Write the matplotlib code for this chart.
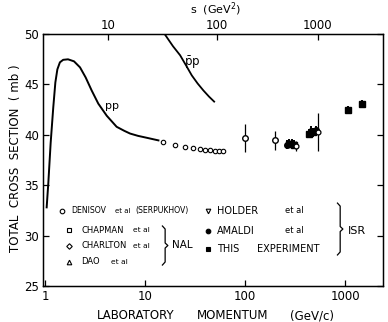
import numpy as np
import matplotlib
matplotlib.use("Agg")
import matplotlib.pyplot as plt

# pp total cross section curve (lab momentum GeV/c, mb)
pp_p = [1.04, 1.08, 1.14, 1.21, 1.27, 1.33, 1.41, 1.52, 1.70, 1.95, 2.24, 2.55,
        2.93, 3.41, 4.14, 5.2, 6.2, 7.08, 8.5, 10.5, 13.6]
pp_sig = [32.8, 35.2, 39.2, 42.7, 45.2, 46.5, 47.2, 47.45, 47.5, 47.3, 46.7, 45.7,
          44.4, 43.1, 41.9, 40.8, 40.4, 40.13, 39.9, 39.7, 39.45]

# pbar-p curve
pbp_p = [15.7, 19.0, 22.4, 26.0, 29.3, 33.5, 38.3, 43.5, 49.0]
pbp_sig = [50.0, 48.8, 47.9, 46.8, 45.9, 45.1, 44.4, 43.8, 43.3]

# Denisov et al (Serpukhov)
den_p = [15, 20, 25, 30, 35, 40, 45, 50, 55, 60]
den_sig = [39.3, 39.0, 38.8, 38.65, 38.55, 38.5, 38.45, 38.42, 38.4, 38.4]

# NAL points
nal_p = [100, 200]
nal_sig = [39.7, 39.47]
nal_err = [1.4, 0.95]

# ISR: Holder et al
hol_p = [324, 535]
hol_sig = [38.85, 40.3]
hol_err = [0.5, 1.9]

# ISR: Amaldi et al
ama_p = [262, 292, 455, 505]
ama_sig = [39.0, 39.15, 40.4, 40.45]
ama_err = [0.45, 0.45, 0.45, 0.45]

# ISR: this experiment
exp_p = [276, 305, 432, 480, 1063, 1468]
exp_sig = [39.1, 39.0, 40.1, 40.25, 42.5, 43.1]
exp_err = [0.45, 0.45, 0.45, 0.45, 0.4, 0.4]

s_ticks = [10, 100, 1000]
m = 0.938


def p_from_s(s):
    e = (s - 2 * m * m) / (2 * m)
    return np.sqrt(e * e - m * m)


fig = plt.figure(figsize=(3.88, 3.22), dpi=100)
ax = fig.add_axes([0.112, 0.112, 0.876, 0.782])

ax.plot(pp_p, pp_sig, color='black', lw=1.4)
ax.plot(pbp_p, pbp_sig, color='black', lw=1.3)
ax.plot(den_p, den_sig, 'o', ms=3.2, mfc='white', mec='black', mew=0.8)
ax.errorbar(nal_p, nal_sig, yerr=nal_err, fmt='o', ms=4, mfc='white', mec='black',
            mew=1.0, ecolor='black', elinewidth=0.9, capsize=0)
ax.errorbar(ama_p, ama_sig, yerr=ama_err, fmt='o', ms=4, color='black',
            elinewidth=1.4, capsize=0)
ax.errorbar(exp_p, exp_sig, yerr=exp_err, fmt='s', ms=3.8, color='black',
            elinewidth=1.4, capsize=0)
ax.errorbar(hol_p, hol_sig, yerr=hol_err, fmt='o', ms=3.5, mfc='white', mec='black',
            mew=0.9, ecolor='black', elinewidth=0.9, capsize=0)

ax.text(4.7, 42.9, 'pp', fontsize=8, ha='center', va='center')
ax.text(29.5, 47.2, r'$\bar{\mathrm{p}}\mathrm{p}$', fontsize=8.5, ha='center', va='center')

ax.set_xscale('log')
ax.set_xlim(0.966, 2400)
ax.set_ylim(25, 50)
ax.set_xticks([1, 10, 100, 1000])
ax.set_xticklabels(['1', '10', '100', '1000'])
ax.xaxis.set_minor_locator(matplotlib.ticker.NullLocator())
ax.set_yticks([25, 30, 35, 40, 45, 50])
ax.tick_params(direction='in', length=4, width=0.9, labelsize=8.5, right=True, pad=3)
for sp in ax.spines.values():
    sp.set_linewidth(1.0)

ax2 = ax.twiny()
ax2.set_xscale('log')
ax2.set_xlim(ax.get_xlim())
ax2.set_xticks([p_from_s(s) for s in s_ticks])
ax2.set_xticklabels([str(s) for s in s_ticks])
ax2.xaxis.set_minor_locator(matplotlib.ticker.NullLocator())
ax2.tick_params(direction='in', length=4, width=0.9, labelsize=8.5, pad=1.5)

# legend drawn by hand: marker, face, marker x, row y, [(text, x, size)]
tr = ax.transAxes
legend_rows = [
    ('o', 'white', 0.054, 0.298, [('DENISOV', 0.083, 5.6), ('et al', 0.210, 5.0),
                                  ('(SERPUKHOV)', 0.269, 5.6)]),
    ('s', 'white', 0.076, 0.222, [('CHAPMAN', 0.112, 6.0), ('et al', 0.263, 5.4)]),
    ('D', 'white', 0.076, 0.160, [('CHARLTON', 0.112, 6.0), ('et al', 0.263, 5.4)]),
    ('^', 'white', 0.076, 0.096, [('DAO', 0.112, 6.0), ('et al', 0.200, 5.4)]),
    ('v', 'white', 0.485, 0.298, [('HOLDER', 0.511, 7.0), ('et al', 0.711, 6.0)]),
    ('o', 'black', 0.485, 0.219, [('AMALDI', 0.511, 7.0), ('et al', 0.711, 6.0)]),
    ('s', 'black', 0.485, 0.146, [('THIS', 0.511, 7.0), ('EXPERIMENT', 0.628, 7.0)]),
]
for mk, fc, mx, yy, words in legend_rows:
    ax.plot([mx], [yy], mk, ms=3.3 if mk != 'D' else 2.8, mfc=fc, mec='black',
            mew=0.8, transform=tr, clip_on=False)
    for w, wx, fs in words:
        ax.text(wx, yy, w, fontsize=fs, va='center', transform=tr)


def brace(x, y0, y1):
    ym = (y0 + y1) / 2
    ax.plot([x - 0.008, x, x, x + 0.008, x, x, x - 0.008],
            [y1, y1 - 0.012, ym + 0.01, ym, ym - 0.01, y0 + 0.012, y0],
            color='black', lw=0.9, transform=tr)


brace(0.358, 0.083, 0.238)
ax.text(0.378, 0.162, 'NAL', fontsize=7.5, va='center', transform=tr)
brace(0.873, 0.123, 0.329)
ax.text(0.895, 0.218, 'ISR', fontsize=8, va='center', transform=tr)

fig.text(0.349, 0.02, 'LABORATORY', fontsize=8.5, ha='center', va='center')
fig.text(0.599, 0.02, 'MOMENTUM', fontsize=8.5, ha='center', va='center')
fig.text(0.805, 0.02, '(GeV/c)', fontsize=8.5, ha='center', va='center')
fig.text(0.04, 0.51, 'TOTAL  CROSS  SECTION  ( mb )', fontsize=8.5, rotation=90,
         ha='center', va='center')
fig.text(0.555, 0.972, r's  (GeV$^2$)', fontsize=8, ha='center', va='center')

fig.savefig('out.png', dpi=100)
